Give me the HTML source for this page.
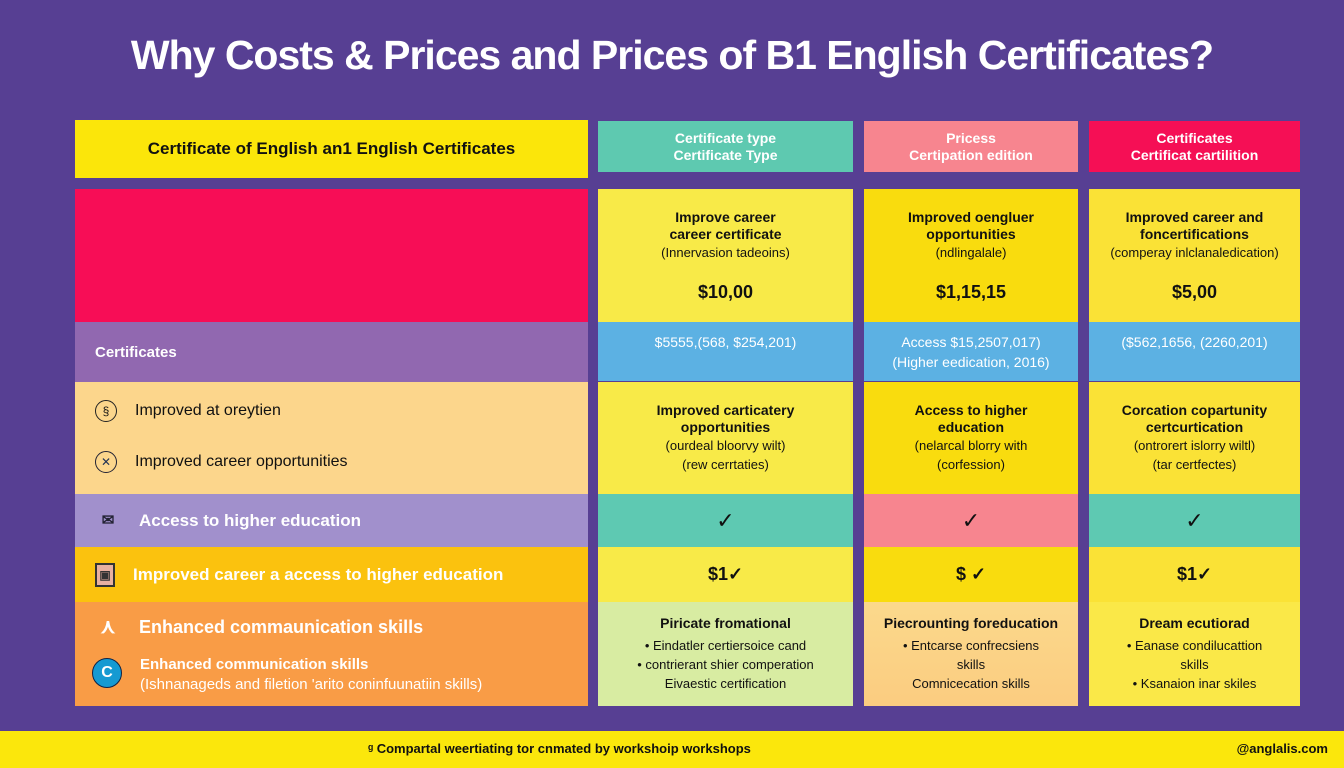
<!DOCTYPE html>
<html><head><meta charset="utf-8"><style>
*{margin:0;padding:0;box-sizing:border-box}
body{width:1344px;height:768px;background:#573f93;position:relative;overflow:hidden;font-family:"Liberation Sans",sans-serif;}
.b{position:absolute;display:flex;flex-direction:column;justify-content:center;align-items:center;text-align:center;color:#111;}
.l{position:absolute;display:flex;align-items:center;padding-left:20px;font-weight:bold;font-size:17px;color:#fff}
.t{font-weight:bold;font-size:14px;line-height:17px}
.s{font-size:13px;line-height:19px}
.p{font-weight:bold;font-size:18px;margin-top:20px}
.ic{display:inline-block;width:26px;height:26px;margin-right:18px;text-align:center;line-height:26px;font-size:15px}
</style></head><body>
<div style="position:absolute;left:0;top:32px;width:1344px;text-align:center;color:#fff;font-weight:bold;font-size:41px;letter-spacing:-1px">Why Costs &amp; Prices and Prices of B1 English Certificates?</div>

<div class="b" style="left:75px;top:120px;width:513px;height:58px;background:#fbe60a;font-weight:bold;font-size:17px">Certificate of English an1 English Certificates</div>
<div class="b" style="left:598px;top:121px;width:255px;height:51px;background:#5ec9b0;color:#fff;font-weight:bold;font-size:14px;line-height:17px">Certificate type<br>Certificate Type</div>
<div class="b" style="left:864px;top:121px;width:214px;height:51px;background:#f7858f;color:#fff;font-weight:bold;font-size:14px;line-height:17px">Pricess<br>Certipation edition</div>
<div class="b" style="left:1089px;top:121px;width:211px;height:51px;background:#f50f55;color:#fff;font-weight:bold;font-size:14px;line-height:17px">Certificates<br>Certificat cartilition</div>

<!-- row1 -->
<div class="b" style="left:75px;top:189px;width:513px;height:133px;background:#f70d56"></div>
<div class="b" style="left:598px;top:189px;width:255px;height:133px;background:#f8ea48"><div class="t">Improve career<br>career certificate</div><div class="s">(Innervasion tadeoins)</div><div class="p">$10,00</div></div>
<div class="b" style="left:864px;top:189px;width:214px;height:133px;background:#f9dc0e"><div class="t">Improved oengluer<br>opportunities</div><div class="s">(ndlingalale)</div><div class="p">$1,15,15</div></div>
<div class="b" style="left:1089px;top:189px;width:211px;height:133px;background:#fae236"><div class="t">Improved career and<br>foncertifications</div><div class="s">(comperay inlclanaledication)</div><div class="p">$5,00</div></div>

<!-- row2 -->
<div class="l" style="left:75px;top:322px;width:513px;height:60px;background:#9168b0;font-size:15px">Certificates</div>
<div class="b" style="left:598px;top:322px;width:255px;height:59px;background:#5cb1e3;color:#fff;font-size:14px;line-height:20px;justify-content:flex-start;padding-top:10px">$5555,(568, $254,201)</div>
<div class="b" style="left:864px;top:322px;width:214px;height:59px;background:#5cb1e3;color:#fff;font-size:14px;line-height:20px">Access $15,2507,017)<br>(Higher eedication, 2016)</div>
<div class="b" style="left:1089px;top:322px;width:211px;height:59px;background:#5cb1e3;color:#fff;font-size:14px;line-height:20px;justify-content:flex-start;padding-top:10px">($562,1656, (2260,201)</div>

<!-- row3 -->
<div style="position:absolute;left:75px;top:382px;width:513px;height:112px;background:#fcd68c"></div>
<div class="l" style="left:75px;top:396px;height:30px;color:#111;font-weight:normal;font-size:16px"><span class="ic" style="border:1.5px solid #222;border-radius:50%;width:22px;height:22px;line-height:20px;font-size:12px">§</span>Improved at oreytien</div>
<div class="l" style="left:75px;top:447px;height:30px;color:#111;font-weight:normal;font-size:16px"><span class="ic" style="border:1.5px solid #223;border-radius:50%;width:22px;height:22px;line-height:20px;font-size:12px;color:#235">✕</span>Improved career opportunities</div>
<div class="b" style="left:598px;top:382px;width:255px;height:112px;background:#f8ea48"><div class="t">Improved carticatery<br>opportunities</div><div class="s">(ourdeal bloorvy wilt)<br>(rew cerrtaties)</div></div>
<div class="b" style="left:864px;top:382px;width:214px;height:112px;background:#f9dc0e"><div class="t">Access to higher<br>education</div><div class="s">(nelarcal blorry with<br>(corfession)</div></div>
<div class="b" style="left:1089px;top:382px;width:211px;height:112px;background:#fae236"><div class="t">Corcation copartunity<br>certcurtication</div><div class="s">(ontrorert islorry wiltl)<br>(tar certfectes)</div></div>

<!-- row4 -->
<div class="l" style="left:75px;top:494px;width:513px;height:53px;background:#a190cc"><span class="ic" style="color:#223">✉</span>Access to higher education</div>
<div class="b" style="left:598px;top:494px;width:255px;height:53px;background:#5ec9b2;font-size:22px">✓</div>
<div class="b" style="left:864px;top:494px;width:214px;height:53px;background:#f7858f;font-size:22px">✓</div>
<div class="b" style="left:1089px;top:494px;width:211px;height:53px;background:#5ec9b2;font-size:22px">✓</div>

<!-- row5 -->
<div class="l" style="left:75px;top:547px;width:513px;height:55px;background:#fbc20e"><span class="ic" style="color:#333;border:2px solid #333;width:20px;height:24px;line-height:20px;font-size:12px;background:#e8b0a0">▣</span>Improved career a access to higher education</div>
<div class="b" style="left:598px;top:547px;width:255px;height:55px;background:#f8ea48;font-weight:bold;font-size:18px">$1✓</div>
<div class="b" style="left:864px;top:547px;width:214px;height:55px;background:#f9dc0e;font-weight:bold;font-size:18px">$ ✓</div>
<div class="b" style="left:1089px;top:547px;width:211px;height:55px;background:#fae236;font-weight:bold;font-size:18px">$1✓</div>

<!-- row6 -->
<div style="position:absolute;left:75px;top:602px;width:513px;height:104px;background:#f99c46"></div>
<div class="l" style="left:75px;top:612px;height:30px;font-size:18px"><span class="ic" style="font-size:20px">⋏</span>Enhanced commaunication skills</div>
<div style="position:absolute;left:92px;top:658px;width:30px;height:30px;border-radius:50%;background:#159ad2;border:1.5px solid #124;color:#fff;font-weight:bold;text-align:center;line-height:27px;font-size:16px">C</div>
<div style="position:absolute;left:140px;top:655px;color:#fff;font-size:15px;line-height:20px"><b>Enhanced communication skills</b><br>(Ishnanageds and filetion 'arito coninfuunatiin skills)</div>
<div class="b" style="left:598px;top:602px;width:255px;height:104px;background:#d8eca2"><div class="t" style="margin-bottom:4px">Piricate fromational</div><div class="s">• Eindatler certiersoice cand<br>• contrierant shier comperation<br>Eivaestic certification</div></div>
<div class="b" style="left:864px;top:602px;width:214px;height:104px;background:linear-gradient(#fbd98c,#fbcc80)"><div class="t" style="margin-bottom:4px">Piecrounting foreducation</div><div class="s">• Entcarse confrecsiens<br>skills<br>Comnicecation skills</div></div>
<div class="b" style="left:1089px;top:602px;width:211px;height:104px;background:#fae848"><div class="t" style="margin-bottom:4px">Dream ecutiorad</div><div class="s">• Eanase condilucattion<br>skills<br>• Ksanaion inar skiles</div></div>

<!-- footer -->
<div style="position:absolute;left:0;top:731px;width:1344px;height:37px;background:#fbe70c"></div>
<div style="position:absolute;left:368px;top:741px;font-size:13px;font-weight:bold;color:#111">ᵍ Compartal weertiating tor cnmated by workshoip workshops</div>
<div style="position:absolute;right:16px;top:741px;font-size:13px;font-weight:bold;color:#111">@anglalis.com</div>
</body></html>
